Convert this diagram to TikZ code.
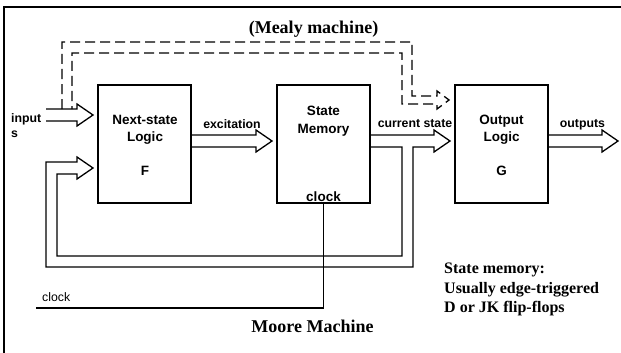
\documentclass[tikz,border=0pt]{standalone}
\usepackage{fontspec}
\setmainfont{Liberation Serif}
\setsansfont{Liberation Sans}
\usetikzlibrary{calc}

\begin{document}
\begin{tikzpicture}[x=1pt,y=-1pt,
  blk/.style={draw,line width=1.3pt,minimum width=93pt,minimum height=118pt,
              inner sep=0pt,outer sep=0pt,anchor=north west},
  arr/.style={draw,line width=1.3pt,line join=miter},
  dsh/.style={arr,dash pattern=on 10pt off 5pt},
  wire/.style={draw,line width=1.3pt},
  frame/.style={draw,line width=2pt},
  big/.style={font=\sffamily\bfseries\fontsize{13.5}{16}\selectfont,inner sep=0pt,anchor=base},
  sml/.style={font=\sffamily\bfseries\fontsize{12.3}{15}\selectfont,inner sep=0pt,anchor=base},
  plain/.style={font=\sffamily\fontsize{12.3}{15}\selectfont,inner sep=0pt,anchor=base west},
  ttl/.style={font=\rmfamily\bfseries\fontsize{18}{21}\selectfont,inner sep=0pt,anchor=base},
  note/.style={font=\rmfamily\bfseries\fontsize{16}{19.5}\selectfont,inner sep=0pt,anchor=base west}]

\useasboundingbox (0,0) rectangle (621,353);

% outer frame
\draw[frame] (4,353) -- (4,7) -- (621,7);

% the three blocks
\node[blk] (ns) at (98,85) {};
\node[blk] (sm) at (277,85) {};
\node[blk] (ol) at (455,85) {};

% block texts
\node[big] (nsa) at (145,124) {Next-state};
\node[big] (nsb) at (145,141) {Logic};
\node[big] (nsc) at (145,175) {F};
\node[big] (sma) at (323.5,115) {State};
\node[big] (smb) at (323.5,133) {Memory};
\node[big] (smc) at (323.5,201) {clock};
\node[big] (ola) at (501.5,124) {Output};
\node[big] (olb) at (501.5,141) {Logic};
\node[big] (olc) at (501.5,175) {G};

% free ends of the wires
\coordinate (inend) at (46,115);
\coordinate (clkend) at (36,308);

% inputs
\draw[arr] (inend |- 0,109) -- (77,109) -- (77,104) -- ($(ns.west)+(-5,-29)$)
  -- (77,126) -- (77,121) -- (inend |- 0,121);

% excitation
\draw[arr] ($(ns.east)+(0,-9)$) -- (256,135) -- (256,130) -- ($(sm.west)+(-5,-3)$)
  -- (256,152) -- (256,147) -- ($(ns.east)+(0,3)$);

% current state, with the feedback loop back into the next-state logic
\draw[arr] ($(sm.east)+(0,-9)$) -- (434,135) -- (434,130) -- ($(ol.west)+(-5,-3)$)
  -- (434,152) -- (434,147) -- (413,147) -- (413,267) -- (46,267) -- (46,162)
  -- (77,162) -- (77,157) -- ($(ns.west)+(-5,24)$) -- (77,179) -- (77,174)
  -- (57,174) -- (57,256) -- (402,256) -- (402,147) -- ($(sm.east)+(0,3)$);

% outputs
\draw[arr] ($(ol.east)+(0,-9)$) -- (602,135) -- (602,130) -- (618,141)
  -- (602,152) -- (602,147) -- ($(ol.east)+(0,3)$);

% Mealy path: inputs straight to the output logic
\draw[dsh] (62,109) -- (62,42) -- (412,42) -- (412,96) -- (437,96) -- (437,91)
  -- ($(ol.west)+(-6,-44)$) -- (437,109) -- (437,104) -- (402,104) -- (402,53)
  -- (72,53) -- (72,109);

% clock
\draw[wire] (clkend) -- (sm.south |- clkend) -- (sm.south);

% labels
\node[sml] (lexc) at (232,128) {excitation};
\node[sml] (lcur) at (415,127) {current state};
\node[sml] (lout) at (582.5,127) {outputs};
\node[sml,anchor=base west] (lin1) at (11,122) {input};
\node[sml,anchor=base west] (lin2) at (11,137) {s};
\node[plain] (lclk) at (42,301) {clock};

\node[ttl] (mealy) at (313.5,34) {(Mealy machine)};
\node[ttl] (moore) at (312.5,332) {Moore Machine};

\node[note] (n1) at (444,273.5) {State memory:};
\node[note] (n2) at (444,293) {Usually edge-triggered};
\node[note] (n3) at (444,312.5) {D or JK flip-flops};

\end{tikzpicture}
\end{document}
